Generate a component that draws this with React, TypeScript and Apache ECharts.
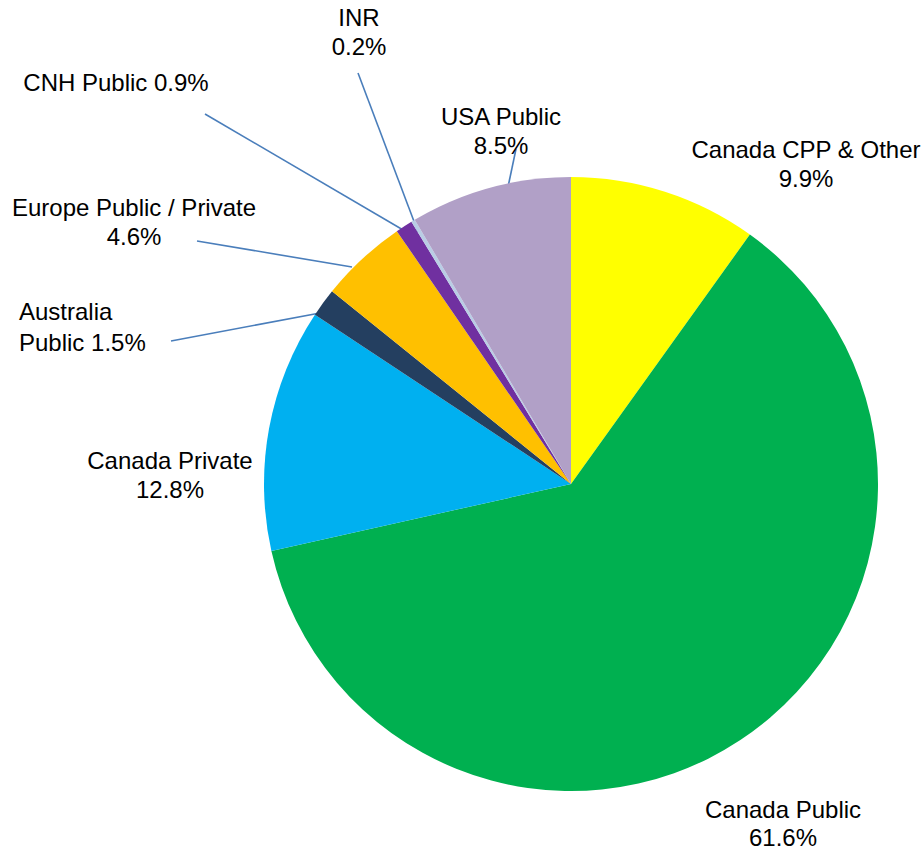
import React, { useEffect, useRef } from "react";
import * as echarts from "echarts";

const categories = [
  "Canada CPP & Other",
  "Canada Public",
  "Canada Private",
  "Australia Public",
  "Europe Public / Private",
  "CNH Public",
  "INR",
  "USA Public",
];
const values = [9.9, 61.6, 12.8, 1.5, 4.6, 0.9, 0.2, 8.5];
const colors = ["#FFFF00", "#00B050", "#00B0F0", "#243F60", "#FFC000", "#7030A0", "#B9CDE5", "#B1A0C7"];

// label text templates ({v} = percentage)
const labelTemplates = [
  "Canada CPP & Other\n{v}%",
  "Canada Public\n{v}%",
  "Canada Private\n{v}%",
  "Australia\nPublic {v}%",
  "Europe Public / Private\n{v}%",
  "CNH Public {v}%",
  "INR\n{v}%",
  "USA Public\n{v}%",
];

// label placement (layout, not data)
const labelLayouts: any[] = [
  { x: 806, y: 164, align: "center" },
  { x: 783, y: 823, align: "center", lh: 28 },
  { x: 170, y: 475, align: "center" },
  { x: 19, y: 327, align: "left", lh: 31, line: [[171, 341], [320, 313]] },
  { x: 134, y: 222, align: "center", line: [[197, 241], [352, 267]] },
  { x: 116, y: 82, align: "center", line: [[205, 114], [410, 234]] },
  { x: 359, y: 32, align: "center", line: [[358, 73], [418, 232]] },
  { x: 501, y: 131, align: "center", line: [[516, 149], [508, 187]] },
];

export default function App() {
  const ref = useRef<HTMLDivElement>(null);
  useEffect(() => {
    document.body.style.margin = "0";
    const chart = echarts.init(ref.current!, null, { renderer: "svg" });
    chart.setOption({
      animation: false,
      backgroundColor: "#ffffff",
      series: [
        {
          type: "pie",
          center: [571, 484],
          radius: 307,
          startAngle: 90,
          clockwise: true,
          avoidLabelOverlap: false,
          minShowLabelAngle: 0,
          label: {
            show: true,
            fontFamily: "Liberation Sans, Arial, sans-serif",
            fontSize: 24,
            lineHeight: 29,
            color: "#000000",
            formatter: (p: any) => labelTemplates[p.dataIndex].replace("{v}", p.value.toFixed(1)),
          },
          labelLine: {
            show: true,
            lineStyle: { color: "#4A7EBB", width: 1.6 },
          },
          labelLayout: (params: any) => {
            const l = labelLayouts[params.dataIndex];
            const res: any = { x: l.x, y: l.y, align: l.align, verticalAlign: "middle" };
            if (l.line) res.labelLinePoints = [l.line[0], l.line[0], l.line[1]];
            return res;
          },
          data: categories.map((name, i) => ({
            name,
            value: values[i],
            itemStyle: { color: colors[i], borderWidth: 0 },
            labelLine: { show: !!labelLayouts[i].line },
            label: labelLayouts[i].lh ? { lineHeight: labelLayouts[i].lh } : undefined,
          })),
        },
      ],
    });
    return () => chart.dispose();
  }, []);
  return <div ref={ref} style={{ width: 924, height: 849 }} />;
}
